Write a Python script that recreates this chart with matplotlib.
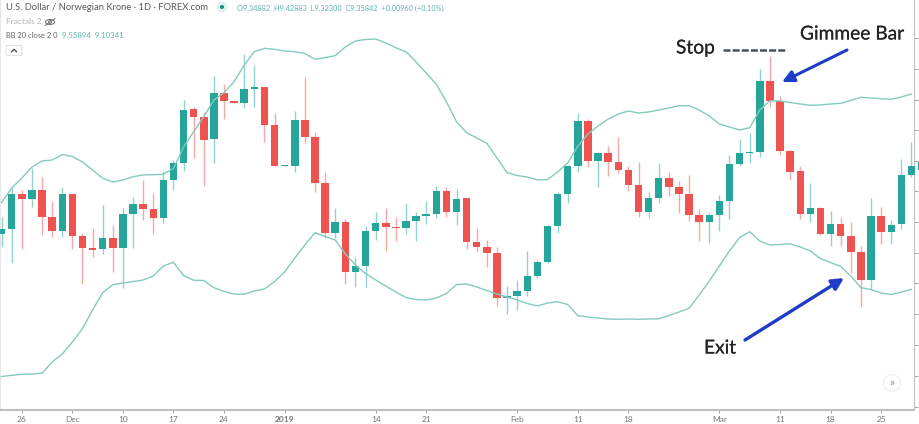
import matplotlib
matplotlib.use('Agg')
import matplotlib.pyplot as plt
import matplotlib.patheffects as pe
from matplotlib.patches import Circle, FancyBboxPatch, Ellipse

plt.rcParams['font.family'] = ['Lato', 'DejaVu Sans']

# Daily candles, one entry per trading day
opens = [9.2361, 9.2476, 9.3288, 9.3173, 9.338, 9.2759, 9.2437, 9.3281, 9.2322, 9.2053,
         9.2016, 9.2283, 9.2053, 9.2828, 9.3065, 9.2943, 9.2729, 9.361, 9.4008, 9.5236,
         9.5066, 9.4553, 9.5618, 9.5427, 9.5374, 9.5696, 9.5756, 9.4868, 9.3925, 9.3939,
         9.499, 9.4606, 9.3548, 9.2384, 9.2651, 9.1487, 9.1639, 9.2437, 9.2614, 9.2536,
         9.2499, 9.2667, 9.2789, 9.2828, 9.3364, 9.2881, 9.3189, 9.2184, 9.2076, 9.1931,
         9.0896, 9.0942, 9.1064, 9.1395, 9.1717, 9.2545, 9.3281, 9.3925, 9.4974, 9.4054,
         9.4224, 9.4017, 9.3833, 9.3488, 9.2881, 9.3203, 9.3663, 9.3449, 9.3295, 9.2812,
         9.2644, 9.2805, 9.3127, 9.3978, 9.4231, 9.4254, 9.588, 9.5434, 9.4284, 9.3817,
         9.2828, 9.2959, 9.2368, 9.2598, 9.2322, 9.1961, 9.131, 9.2782, 9.2421, 9.2591,
         9.3725, 9.384]
closes = [9.2476, 9.3288, 9.3173, 9.338, 9.2759, 9.2437, 9.3281, 9.2329, 9.2039, 9.2,
          9.2283, 9.2053, 9.2828, 9.3065, 9.2943, 9.2729, 9.361, 9.4008, 9.522, 9.5052,
          9.453, 9.5618, 9.5427, 9.5374, 9.5696, 9.5756, 9.4868, 9.3925, 9.3948, 9.499,
          9.4606, 9.3534, 9.2384, 9.2651, 9.1487, 9.1639, 9.2437, 9.2614, 9.2529, 9.2499,
          9.2667, 9.2789, 9.2835, 9.3364, 9.2881, 9.318, 9.2184, 9.2076, 9.1931, 9.0889,
          9.0942, 9.1064, 9.1395, 9.1724, 9.2545, 9.3281, 9.3925, 9.4974, 9.4054, 9.4224,
          9.4017, 9.3833, 9.3488, 9.2881, 9.3203, 9.3663, 9.3449, 9.3295, 9.2812, 9.2644,
          9.2805, 9.3134, 9.3978, 9.4238, 9.4261, 9.588, 9.5434, 9.4277, 9.3801, 9.2828,
          9.2959, 9.2368, 9.2598, 9.2322, 9.1961, 9.131, 9.2782, 9.2421, 9.2582, 9.3736,
          9.3937, 9.4024]
highs = [9.2766, 9.3419, 9.338, 9.3886, 9.3679, 9.3134, 9.3456, 9.3288, 9.2391, 9.2506,
         9.3035, 9.2575, 9.2966, 9.3212, 9.361, 9.3311, 9.3824, 9.407, 9.545, 9.5282,
         9.5181, 9.6002, 9.5818, 9.5427, 9.6508, 9.6255, 9.5756, 9.5158, 9.3948, 9.5197,
         9.5972, 9.4721, 9.3801, 9.2959, 9.2706, 9.1846, 9.2552, 9.2881, 9.2973, 9.2766,
         9.3088, 9.2881, 9.3134, 9.3479, 9.3442, 9.3396, 9.3196, 9.2499, 9.223, 9.2076,
         9.1179, 9.131, 9.1977, 9.177, 9.2575, 9.3341, 9.3955, 9.5158, 9.5013, 9.4261,
         9.4399, 9.4592, 9.3932, 9.4031, 9.3341, 9.3994, 9.3787, 9.3594, 9.3725, 9.2936,
         9.2844, 9.3265, 9.4185, 9.4546, 9.4698, 9.6156, 9.6462, 9.5549, 9.43, 9.3939,
         9.3534, 9.2989, 9.2904, 9.2759, 9.2651, 9.2092, 9.3203, 9.2982, 9.269, 9.4093,
         9.4477, 9.4024]
lows = [9.2076, 9.1708, 9.2023, 9.2989, 9.2345, 9.2306, 9.2306, 9.203, 9.1218, 9.1846,
        9.1908, 9.1501, 9.1133, 9.2053, 9.269, 9.2368, 9.2614, 9.338, 9.3824, 9.4116,
        9.3479, 9.3994, 9.5006, 9.5374, 9.5259, 9.5282, 9.4491, 9.3925, 9.3925, 9.3801,
        9.4472, 9.3341, 9.2269, 9.2269, 9.1218, 9.1156, 9.1142, 9.223, 9.1984, 9.2214,
        9.2368, 9.2207, 9.2591, 9.2729, 9.2766, 9.2575, 9.2023, 9.1961, 9.1602, 9.0719,
        9.0528, 9.062, 9.0949, 9.1363, 9.1694, 9.2384, 9.3074, 9.3801, 9.3916, 9.3456,
        9.3709, 9.3778, 9.3364, 9.2766, 9.2729, 9.3088, 9.3249, 9.2858, 9.2674, 9.2214,
        9.2154, 9.2444, 9.2706, 9.3939, 9.4001, 9.4132, 9.5282, 9.4185, 9.361, 9.2706,
        9.2651, 9.2345, 9.2092, 9.2092, 9.1464, 9.0696, 9.108, 9.2138, 9.2138, 9.2476,
        9.3686, 9.384]

# Bollinger bands (20, 2)
bb_upper = [9.3092, 9.3426, 9.3656, 9.3909, 9.4047, 9.407, 9.4196, 9.415, 9.4024, 9.384,
            9.3649, 9.3564, 9.361, 9.3686, 9.3725, 9.3732, 9.3741, 9.3879, 9.4369, 9.4721,
            9.5066, 9.545, 9.5618, 9.5871, 9.6255, 9.6561, 9.6639, 9.6616, 9.6577, 9.6561,
            9.652, 9.6386, 9.6427, 9.6469, 9.6669, 9.6807, 9.6841, 9.6853, 9.6761, 9.6653,
            9.6561, 9.6324, 9.6071, 9.5811, 9.5411, 9.4951, 9.4698, 9.4576, 9.4454, 9.4116,
            9.3778, 9.3713, 9.3679, 9.361, 9.3621, 9.3794, 9.4001, 9.4392, 9.4668, 9.4852,
            9.5013, 9.5128, 9.5197, 9.5151, 9.5174, 9.522, 9.5266, 9.5319, 9.5319, 9.522,
            9.5082, 9.4898, 9.4829, 9.476, 9.4813, 9.522, 9.5434, 9.5427, 9.5392, 9.5358,
            9.5328, 9.5335, 9.5358, 9.5374, 9.5438, 9.5512, 9.5496, 9.548, 9.5466, 9.5519,
            9.5589]
bb_lower = [8.909, 8.9118, 8.9141, 8.9148, 8.9164, 8.9424, 8.9608, 8.9884, 9.0194, 9.062,
            9.1018, 9.1202, 9.1241, 9.1275, 9.131, 9.1402, 9.1632, 9.1717, 9.1413, 9.1303,
            9.1298, 9.1133, 9.1045, 9.0988, 9.0981, 9.1057, 9.1103, 9.1275, 9.1494, 9.1816,
            9.2115, 9.2398, 9.231, 9.223, 9.1908, 9.1655, 9.1459, 9.131, 9.1172, 9.1034,
            9.0907, 9.0861, 9.085, 9.0896, 9.0999, 9.1206, 9.1218, 9.1149, 9.1068, 9.0988,
            9.0919, 9.085, 9.0769, 9.0712, 9.0781, 9.0811, 9.0746, 9.0489, 9.0459, 9.0436,
            9.0413, 9.0406, 9.0413, 9.0406, 9.0413, 9.0418, 9.0493, 9.0574, 9.0659, 9.0965,
            9.1287, 9.1632, 9.1977, 9.2287, 9.2421, 9.2207, 9.2115, 9.2126, 9.2145, 9.2069,
            9.1977, 9.1804, 9.1712, 9.162, 9.1402, 9.1133, 9.1091, 9.1011, 9.0976, 9.1034,
            9.1096]

date_ticks = [2, 7, 12, 17, 22, 28, 37, 42, 51, 57, 62, 71, 77, 82, 87]
date_labels = ['26', 'Dec', '10', '17', '24', '2019', '14', '21', 'Feb', '11', '18', 'Mar', '11', '18', '25']
price_ticks = [9.688, 9.617, 9.546, 9.476, 9.405, 9.335, 9.264, 9.193, 9.123, 9.052, 8.982, 8.911, 8.84]

TEAL = '#26a69a'
RED = '#ef5350'
W, H = 920, 424


def fx(x):
    return x / W


def fy(y):
    return 1 - y / H


fig = plt.figure(figsize=(9.2, 4.24), dpi=100)
ax = fig.add_axes([0, 14 / H, 914 / W, 410 / H])
ax.set_xlim(-0.158, 90.25)
ax.set_ylim(8.832, 9.775)

# Candles
xs = list(range(len(opens)))
colors = [TEAL if c >= o else RED for o, c in zip(opens, closes)]
ax.vlines(xs, lows, highs, colors=colors, linewidth=1, alpha=0.5, clip_on=False, zorder=2)
ax.bar(xs, [abs(c - o) for o, c in zip(opens, closes)], bottom=[min(o, c) for o, c in zip(opens, closes)],
       width=0.74, color=colors, linewidth=0, clip_on=False, zorder=3)

# Bands
ax.plot(range(len(bb_upper)), bb_upper, color='#84cabe', lw=1.0, zorder=4)
ax.plot(range(len(bb_lower)), bb_lower, color='#84cabe', lw=1.0, zorder=4)

# Axes
ax.spines['top'].set_visible(False)
ax.spines['left'].set_color('#e6e6e6')
ax.spines['right'].set_color('#c4c4c4')
ax.spines['bottom'].set_color('#c0c0c0')
ax.spines['bottom'].set_linewidth(1.5)
ax.set_xticks(date_ticks)
ax.set_xticklabels(date_labels, fontsize=6, color='#777777')
ax.get_xticklabels()[5].set_fontweight('bold')
ax.yaxis.tick_right()
ax.set_yticks(price_ticks)
ax.tick_params(axis='y', length=3, color='#aaaaaa', labelright=False)
ax.tick_params(axis='x', length=2.5, color='#aaaaaa', pad=2)

# Header text
fig.text(fx(6), fy(7), 'U.S. Dollar / Norwegian Krone · 1D · FOREX.com', fontsize=6.75, color='#5a5a5a', va='center')
fig.text(fx(237), fy(8), 'O9.34882  H9.42883  L9.32300  C9.35842  +0.00960 (+0.10%)', fontsize=5.3,
         color='#5fb5aa', va='center')
fig.text(fx(6), fy(22), 'Fractals 2', fontsize=6, color='#b5b5b5', va='center')
fig.text(fx(6), fy(36), 'BB 20 close 2 0', fontsize=5.4, color='#666666', va='center')
fig.text(fx(62), fy(36), '9.55894  9.10341', fontsize=5.6, color='#5fb5aa', va='center')

# Overlay widgets, placed in figure fractions
overlay = fig.add_axes([0, 0, 1, 1], facecolor='none')
overlay.set_xlim(0, W)
overlay.set_ylim(H, 0)
overlay.axis('off')
overlay.add_patch(Circle((222, 7), 5.5, color='#dff3f0', lw=0))
overlay.add_patch(Circle((222, 7), 2, color='#0f8f80', lw=0))
overlay.add_patch(Ellipse((50, 22), 9, 5, fc='none', ec='#777777', lw=0.8))
overlay.add_patch(Circle((50, 22), 1.5, fc='none', ec='#777777', lw=0.7))
overlay.plot([45, 55], [25.5, 18.5], color='#777777', lw=0.7)
overlay.add_patch(FancyBboxPatch((6, 45.5), 16, 10, boxstyle='round,pad=0,rounding_size=2', fc='white',
                                 ec='#e2e2e2', lw=0.8))
overlay.plot([11.5, 14, 16.5], [51.8, 49.3, 51.8], color='#444444', lw=0.9)
overlay.add_patch(Circle((892, 383), 8.5, fc='white', ec='#f1f1f1', lw=1))
overlay.text(892, 382, '»', fontsize=8.5, color='#888888', ha='center', va='center')

# Trade notes
shadow = [pe.withSimplePatchShadow(offset=(1, -1), shadow_rgbFace='#8a94c8', alpha=0.5)]
text_shadow = [pe.withStroke(linewidth=0.15, foreground='#555555')]
overlay.text(676, 48, 'Stop', fontsize=13.8, color='#222222', va='center', path_effects=text_shadow)
overlay.text(800, 34, 'Gimmee Bar', fontsize=13.8, color='#222222', va='center', path_effects=text_shadow)
overlay.text(704, 348, 'Exit', fontsize=13.8, color='#222222', va='center', path_effects=text_shadow)
overlay.plot([723, 787], [50, 50], color='#4a5260', lw=1.8, linestyle=(0, (2.8, 0.85)))
overlay.annotate('', xy=(782, 82), xytext=(847, 50),
                 arrowprops=dict(arrowstyle='-|>,head_length=0.7,head_width=0.35', color='#1f3cc8', lw=2.2,
                                 shrinkA=0, shrinkB=0, path_effects=shadow))
overlay.annotate('', xy=(844, 278), xytext=(745, 340),
                 arrowprops=dict(arrowstyle='-|>,head_length=0.7,head_width=0.35', color='#1f3cc8', lw=2.4,
                                 shrinkA=0, shrinkB=0, path_effects=shadow))

fig.savefig('out.png', dpi=100)
